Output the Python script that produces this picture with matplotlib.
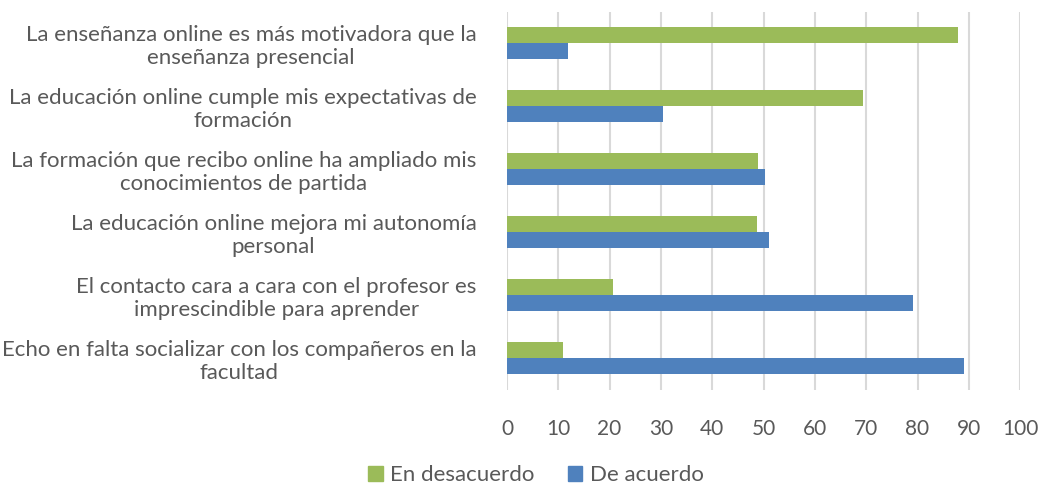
import numpy as np
import matplotlib
matplotlib.use("Agg")
import matplotlib.pyplot as plt
from matplotlib.patches import Patch

# ── data ────────────────────────────────────────────
categories = [
    "La enseñanza online es más motivadora que la\nenseñanza presencial",
    "La educación online cumple mis expectativas de\nformación",
    "La formación que recibo online ha ampliado mis\nconocimientos de partida",
    "La educación online mejora mi autonomía\npersonal",
    "El contacto cara a cara con el profesor es\nimprescindible para aprender",
    "Echo en falta socializar con los compañeros en la\nfacultad",
]
en_desacuerdo = [87.8, 69.3, 48.9, 48.7, 20.7, 10.9]
de_acuerdo = [11.8, 30.5, 50.3, 51.1, 79.2, 89.1]
x_ticks = list(range(0, 101, 10))

GREEN = "#9BBB59"
BLUE = "#4F81BD"
TEXT = "#595959"

plt.rcParams.update({
    "font.family": ["Lato", "DejaVu Sans"],
})

fig = plt.figure(figsize=(10.41, 4.87), dpi=100)
ax = fig.add_axes([0.487, 0.2, 0.493, 0.776])

y = np.arange(len(categories))
h = 0.254
ax.barh(y - h / 2, en_desacuerdo, height=h, color=GREEN, zorder=3)
ax.barh(y + h / 2, de_acuerdo, height=h, color=BLUE, zorder=3)

ax.set_ylim(len(categories) - 0.5, -0.5)
ax.set_xlim(0, 100)
ax.set_xticks(x_ticks)
ax.set_yticks(y)
ax.set_yticklabels(categories, fontsize=16, color=TEXT, ha="right",
                   multialignment="center", linespacing=1.15)
ax.tick_params(axis="y", length=0, pad=22)
ax.tick_params(axis="x", length=0, pad=21, labelsize=15, labelcolor=TEXT)
ax.grid(axis="x", color="#D9D9D9", lw=1.5, zorder=0)
for s in ax.spines.values():
    s.set_visible(False)

handles = [Patch(color=GREEN, label="En desacuerdo"),
           Patch(color=BLUE, label="De acuerdo")]
leg = fig.legend(handles=handles, loc="center", bbox_to_anchor=(0.515, 0.024),
                 ncol=2, frameon=False, fontsize=16, handlelength=0.65,
                 handleheight=0.65, handletextpad=0.35, columnspacing=1.5)
for t in leg.get_texts():
    t.set_color(TEXT)

fig.savefig("out.png", dpi=100)
